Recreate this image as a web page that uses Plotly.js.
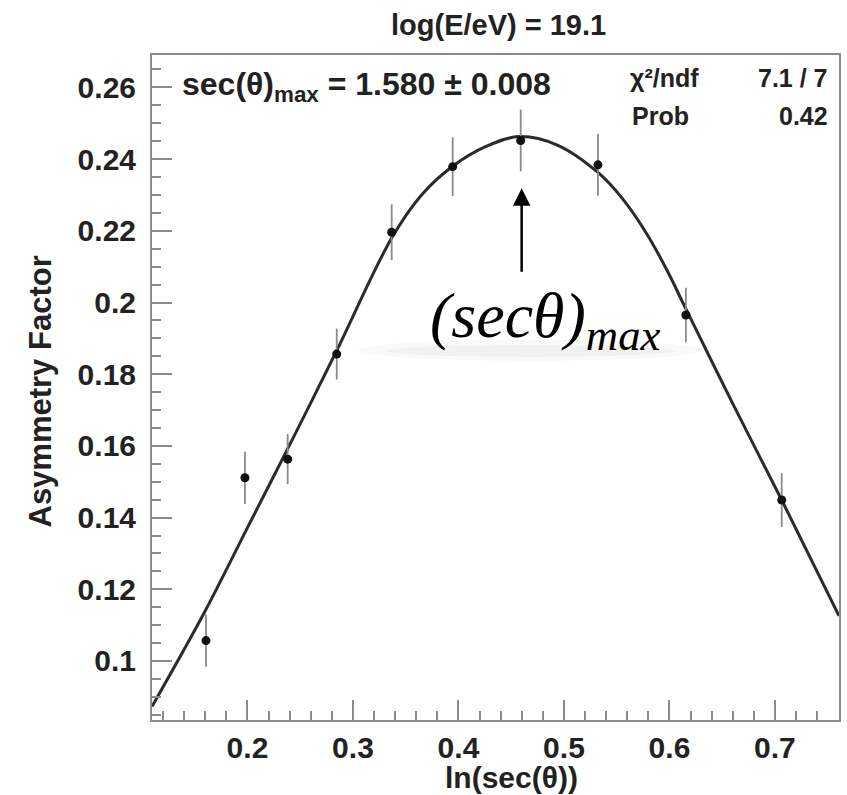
<!DOCTYPE html>
<html>
<head>
<meta charset="utf-8">
<script src="https://cdn.plot.ly/plotly-3.0.1.min.js"></script>
<style>body{margin:0;background:#fff;} #chart{width:847px;height:795px;}</style>
</head>
<body>
<div id="chart"></div>
<script>
// Measured data points: ln(sec(theta)) vs asymmetry factor
const pointX = [0.1607, 0.1976, 0.2381, 0.2846, 0.3367, 0.3945, 0.4590, 0.5322, 0.6156, 0.7064];
const pointY = [0.1057, 0.1511, 0.1563, 0.1856, 0.2196, 0.2379, 0.2452, 0.2384, 0.1965, 0.1449];
const pointErr = [0.0073, 0.0073, 0.0070, 0.0071, 0.0078, 0.0082, 0.0086, 0.0086, 0.0076, 0.0075];

// Fit curve
const fitX = [0.1095, 0.16, 0.2, 0.245, 0.2846, 0.3367, 0.365, 0.3945, 0.4267, 0.4574, 0.4931, 0.5325, 0.5562, 0.5784, 0.5973, 0.6156, 0.66, 0.7064, 0.7607];
const fitY = [0.0873, 0.1140, 0.1372, 0.1632, 0.1866, 0.2180, 0.2300, 0.2380, 0.2436, 0.2463, 0.2440, 0.2362, 0.2287, 0.2192, 0.2092, 0.1982, 0.1718, 0.1449, 0.1126];

// Texts
const titleText = "log(E/eV) = 19.1";
const xTitle = "ln(sec(θ))";
const yTitle = "Asymmetry Factor";
const fitResult = "sec(θ)<sub>max</sub> = 1.580 ± 0.008";
const statLabels = ["χ²/ndf", "Prob"];
const statValues = ["7.1 / 7", "0.42"];
const peakLabel = "<i>(secθ)<sub>max</sub></i>";
const peakArrowX = 0.4599;
const peakArrowY = 0.2319;

const sans = "Liberation Sans, Arial, Helvetica, sans-serif";
const axisGrey = "#8c8c8c";
const textCol = "#222";

const traces = [
  {
    x: fitX, y: fitY, type: "scatter", mode: "lines",
    line: {color: "#2b2b2b", width: 3, shape: "spline", smoothing: 1},
    hoverinfo: "skip"
  },
  {
    x: pointX, y: pointY, type: "scatter", mode: "markers",
    marker: {color: "#111", size: 9},
    error_y: {type: "data", array: pointErr, visible: true, color: "#8a8a8a", thickness: 1.8, width: 0}
  }
];

const annotations = [
  {text: titleText, xref: "paper", yref: "paper", x: 0.505, y: 1.045, xanchor: "center", yanchor: "middle",
   showarrow: false, font: {family: sans, size: 29, color: textCol, weight: "bold"}},
  {text: xTitle, xref: "paper", yref: "paper", x: 0.524, y: -0.086, xanchor: "center", yanchor: "middle",
   showarrow: false, font: {family: sans, size: 30, color: textCol, weight: "bold"}},
  {text: yTitle, xref: "paper", yref: "paper", x: -0.163, y: 0.494, xanchor: "center", yanchor: "middle",
   textangle: -90, showarrow: false, font: {family: sans, size: 31, color: textCol, weight: "bold"}},
  {text: fitResult, xref: "paper", yref: "paper", x: 0.0408, y: 0.952, xanchor: "left", yanchor: "middle",
   showarrow: false, font: {family: sans, size: 32, color: textCol, weight: "bold"}},
  {text: statLabels[0], xref: "paper", yref: "paper", x: 0.6929, y: 0.9654, xanchor: "left", yanchor: "middle",
   showarrow: false, font: {family: sans, size: 25, color: textCol, weight: "bold"}},
  {text: statValues[0], xref: "paper", yref: "paper", x: 0.9869, y: 0.9654, xanchor: "right", yanchor: "middle",
   showarrow: false, font: {family: sans, size: 25, color: textCol, weight: "bold"}},
  {text: statLabels[1], xref: "paper", yref: "paper", x: 0.6958, y: 0.9083, xanchor: "left", yanchor: "middle",
   showarrow: false, font: {family: sans, size: 25, color: textCol, weight: "bold"}},
  {text: statValues[1], xref: "paper", yref: "paper", x: 0.9869, y: 0.9083, xanchor: "right", yanchor: "middle",
   showarrow: false, font: {family: sans, size: 25, color: textCol, weight: "bold"}},
  {text: peakLabel, xref: "paper", yref: "paper", x: 0.5735, y: 0.6015, xanchor: "center", yanchor: "middle",
   showarrow: false, font: {family: "Liberation Serif, Times New Roman, serif", size: 64, color: "#000"}},
  {text: "", xref: "x", yref: "y", x: peakArrowX, y: peakArrowY, ax: 0, ay: 85,
   showarrow: true, arrowhead: 2, arrowsize: 1.4, arrowwidth: 2.5, arrowcolor: "#000"}
];

const shapes = [
  {type: "circle", xref: "paper", yref: "paper", layer: "below",
   x0: 0.30, x1: 0.80, y0: 0.540, y1: 0.572, fillcolor: "rgba(0,0,0,0.025)", line: {width: 0}},
  {type: "circle", xref: "paper", yref: "paper", layer: "below",
   x0: 0.34, x1: 0.76, y0: 0.546, y1: 0.564, fillcolor: "rgba(0,0,0,0.03)", line: {width: 0}}
];

const axisCommon = {
  showline: true, linecolor: axisGrey, linewidth: 2, mirror: true,
  ticks: "inside", ticklen: 20, tickwidth: 2, tickcolor: axisGrey,
  showgrid: false, zeroline: false, tick0: 0,
  tickfont: {family: sans, size: 30, color: textCol, weight: "bold"}
};

const layout = {
  width: 847, height: 795,
  margin: {l: 152, r: 8, t: 55, b: 75},
  paper_bgcolor: "#fff", plot_bgcolor: "#fff",
  showlegend: false,
  xaxis: Object.assign({}, axisCommon, {
    range: [0.1095, 0.7607], dtick: 0.1, ticklabelstandoff: 0,
    minor: {dtick: 0.02, tick0: 0, ticks: "inside", ticklen: 9, tickwidth: 2, tickcolor: axisGrey, showgrid: false}
  }),
  yaxis: Object.assign({}, axisCommon, {
    range: [0.08354, 0.26904], dtick: 0.02, ticklabelstandoff: 8,
    minor: {dtick: 0.005, tick0: 0, ticks: "inside", ticklen: 9, tickwidth: 2, tickcolor: axisGrey, showgrid: false}
  }),
  annotations: annotations,
  shapes: shapes
};

Plotly.newPlot("chart", traces, layout, {staticPlot: true, displayModeBar: false});
</script>
</body>
</html>
